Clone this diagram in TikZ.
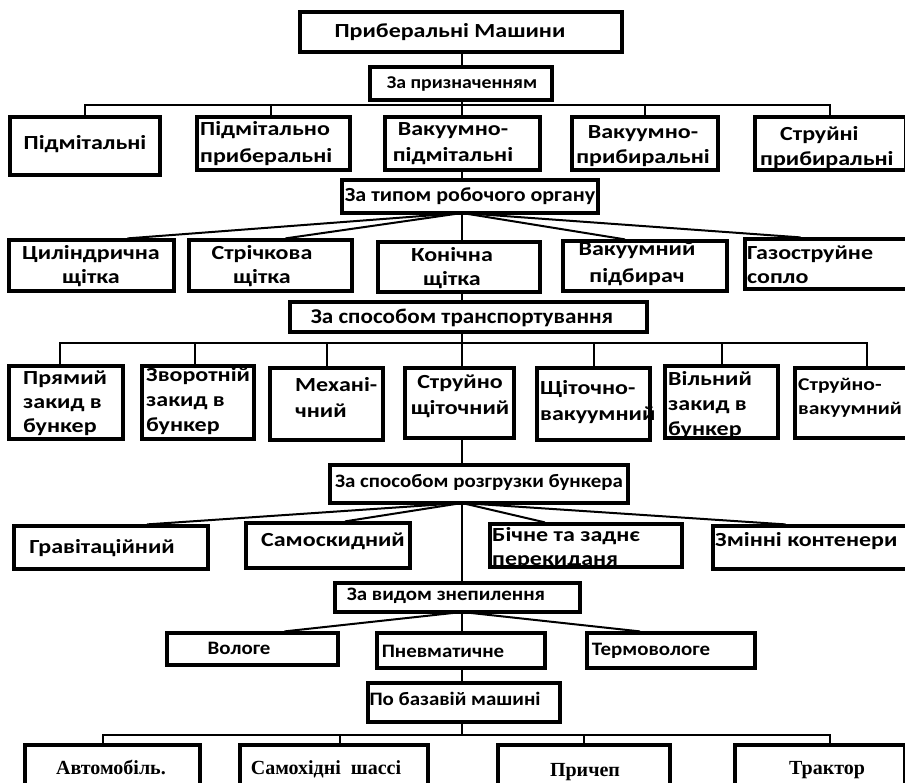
\documentclass[tikz,border=0pt]{standalone}
\usepackage{fontspec}
\setmainfont{Carlito}[FakeStretch=1.2]
\newfontfamily\headfont{Carlito}[FakeStretch=1.1]
\newfontfamily\serifb{Liberation Serif}
\begin{document}
\begin{tikzpicture}[x=1pt,y=-1pt,
  box/.style={draw, rectangle, line width=3.2pt, inner sep=0pt},
  t/.style={inner sep=0pt, align=center, font=\bfseries\fontsize{20}{24}\selectfont},
  tl/.style={t, align=left, anchor=west},
  th/.style={inner sep=0pt, align=center, font=\headfont\bfseries\fontsize{19}{22}\selectfont},
  tb/.style={inner sep=0pt, anchor=base, font=\serifb\bfseries\fontsize{20}{24}\selectfont},
  con/.style={line width=2pt}]
\useasboundingbox[fill=white] (0,0) rectangle (905,783);
\newcommand\bx[5]{%
  \node[box, minimum width={(#4-#2)*1pt}, minimum height={(#5-#3)*1pt}] (#1) at ({(#2+#4)/2},{(#3+#5)/2}) {};}

% ---------- texts ----------
\node[t] (topt) at (450,32) {Приберальні Машини};
\node[th, font=\headfont\bfseries\fontsize{18}{22}\selectfont] (zpt) at (462,84) {За призначенням};

\node[t] (a1t) at (85,144) {Підмітальні};
\node[tl, font=\bfseries\fontsize{20}{27}\selectfont] (a2t) at (200,144) {Підмітально\\приберальні};
\node[t, font=\bfseries\fontsize{20}{26}\selectfont] (a3t) at (453,144) {Вакуумно-\\підмітальні};
\node[t, font=\bfseries\fontsize{20}{25}\selectfont] (a4t) at (643,146) {Вакуумно-\\прибиральні};
\node[tl, font=\bfseries\fontsize{20}{25}\selectfont] (a5t) at (760,148) {\hspace*{20pt}Струйні\\прибиральні};

\node[th, font=\headfont\bfseries\fontsize{20}{22}\selectfont] (ztt) at (470,196) {За типом робочого органу};

\node[t] (b1t) at (91,266) {Циліндрична\\щітка};
\node[t] (b2t) at (262,266) {Стрічкова\\щітка};
\node[t] (b3t) at (452,268) {Конічна\\щітка};
\node[t, font=\bfseries\fontsize{20}{27}\selectfont] (b4t) at (637,264) {Вакуумний\\підбирач};
\node[tl] (b5t) at (747,265) {Газоструйне\\сопло};

\node[th, font=\headfont\bfseries\fontsize{21}{24}\selectfont] (zst) at (462,318) {За способом транспортування};

\node[tl] (c1t) at (23,403) {Прямий\\закид в\\бункер};
\node[tl, font=\bfseries\fontsize{20}{25}\selectfont] (c2t) at (146,401) {Зворотній\\закид в\\бункер};
\node[tl, font=\bfseries\fontsize{20}{26}\selectfont] (c3t) at (295,397) {Механі-\\чний};
\node[t, font=\bfseries\fontsize{20}{26}\selectfont] (c4t) at (460,396) {Струйно\\щіточний};
\node[tl, font=\bfseries\fontsize{20}{26}\selectfont] (c5t) at (540,402) {Щіточно-\\вакуумний};
\node[tl, font=\bfseries\fontsize{20}{25}\selectfont] (c6t) at (668,405) {Вільний\\закид в\\бункер};
\node[tl, font=\bfseries\fontsize{18}{24}\selectfont] (c7t) at (798,398) {Струйно-\\вакуумний};

\node[th] (zrt) at (479,482) {За способом розгрузки бункера};

\node[t] (d1t) at (102,548) {Гравітаційний};
\node[t] (d2t) at (333,541) {Самоскидний};
\node[tl] (d3t) at (492,548) {Бічне та заднє\\перекиданя};
\node[tl] (d4t) at (715,541) {Змінні контенери};

\node[th] (zvt) at (446,596) {За видом знепилення};

\node[th, anchor=base] (e1t) at (239,654) {Вологе};
\node[th, anchor=base] (e2t) at (443,657) {Пневматичне};
\node[th, anchor=base] (e3t) at (651,655) {Термовологе};

\node[th] (zbt) at (455,699) {По базавій машині};

\node[tb] (f1t) at (111,774) {Автомобіль.};
\node[tb] (f2t) at (326,774) {Самохідні\ \ шассі};
\node[tb] (f3t) at (585,776) {Причеп};
\node[tb] (f4t) at (827,774) {Трактор};

% ---------- boxes ----------
\bx{top}{300}{12}{622}{52}
\bx{zp}{370}{67}{552}{100}
\bx{a1}{10}{117}{160}{175}
\bx{a2}{197}{117}{350}{170}
\bx{a3}{385}{117}{540}{170}
\bx{a4}{572}{117}{718}{170}
\bx{a5}{755}{117}{906}{170}
\bx{zt}{342}{180}{598}{213}
\bx{b1}{9}{240}{174}{291}
\bx{b2}{189}{240}{352}{291}
\bx{b3}{378}{242}{540}{292}
\bx{b4}{563}{241}{727}{291}
\bx{b5}{745}{239}{908}{289}
\bx{zs}{290}{302}{647}{332}
\bx{c1}{9}{366}{123}{439}
\bx{c2}{142}{366}{254}{439}
\bx{c3}{270}{368}{383}{440}
\bx{c4}{405}{368}{514}{438}
\bx{c5}{537}{368}{650}{440}
\bx{c6}{665}{366}{778}{438}
\bx{c7}{795}{368}{908}{438}
\bx{zr}{330}{465}{628}{503}
\bx{d1}{14}{526}{208}{569}
\bx{d2}{246}{523}{410}{568}
\bx{d3}{490}{524}{682}{567}
\bx{d4}{713}{526}{908}{569}
\bx{zv}{335}{583}{580}{612}
\bx{e1}{167}{633}{338}{665}
\bx{e2}{377}{633}{545}{668}
\bx{e3}{587}{633}{755}{668}
\bx{zb}{368}{683}{560}{722}
\bx{f1}{25}{745}{200}{798}
\bx{f2}{240}{745}{428}{798}
\bx{f3}{498}{745}{670}{798}
\bx{f4}{735}{745}{905}{798}

% ---------- connectors ----------
\coordinate (h1) at (462,105);
\draw[con] (top.south -| h1) -- (zp.north -| h1);
\draw[con] (zp.south -| h1) -- (h1);
\draw[con] (a1.north) |- (h1);
\draw[con] ([xshift=-3pt]a2.north) |- (h1);
\draw[con] (h1) -- (a3.north -| h1);
\draw[con] (a4.north) |- (h1);
\draw[con] ([xshift=-1pt]a5.north) |- (h1);
\draw[con] (a3.south -| h1) -- (zt.north -| h1);
% level 2 fan
\coordinate (f2c) at (462,213);
\draw[con] (f2c) -- ([xshift=36pt]b1.north);
\draw[con] (f2c) -- ([xshift=15pt]b2.north);
\draw[con] (f2c) -- (b3.north -| f2c);
\draw[con] (f2c) -- ([xshift=-20pt]b4.north);
\draw[con] (f2c) -- ([xshift=-26pt]b5.north);
\draw[con] (b3.south -| f2c) -- (zs.north -| f2c);
% level 3
\coordinate (h3) at (462,343);
\draw[con] (zs.south -| h3) -- (h3) -- (c4.north -| h3);
\draw[con] ([xshift=-6pt]c1.north) |- (h3);
\draw[con] ([xshift=-3pt]c2.north) |- (h3);
\draw[con] (c3.north) |- (h3);
\draw[con] (c5.north) |- (h3);
\draw[con] (c6.north) |- (h3);
\draw[con] ([xshift=15pt]c7.north) |- (h3);
\draw[con] (c4.south -| h3) -- (zr.north -| h3);
% level 4 fan
\coordinate (f4c) at (462,503);
\draw[con] (f4c) -- ([xshift=36pt]d1.north);
\draw[con] (f4c) -- ([xshift=17pt]d2.north);
\draw[con] (f4c) -- ([xshift=-41pt]d3.north);
\draw[con] (f4c) -- ([xshift=-25pt]d4.north);
\draw[con] (f4c) -- (zv.north -| f4c);
% level 5 fan
\coordinate (f5c) at (462,612);
\draw[con] (f5c) -- ([xshift=32pt]e1.north);
\draw[con] (f5c) -- (e2.north -| f5c);
\draw[con] (f5c) -- ([xshift=-31pt]e3.north);
\draw[con] (e2.south -| f5c) -- (zb.north -| f5c);
% level 6
\coordinate (h6) at (462,735);
\draw[con] (zb.south -| h6) -- (h6);
\draw[con] ([xshift=-10pt]f1.north) |- (h6);
\draw[con] ([xshift=6pt]f2.north) |- (h6);
\draw[con] (f3.north) |- (h6);
\draw[con] ([xshift=10pt]f4.north) |- (h6);
\end{tikzpicture}
\end{document}
